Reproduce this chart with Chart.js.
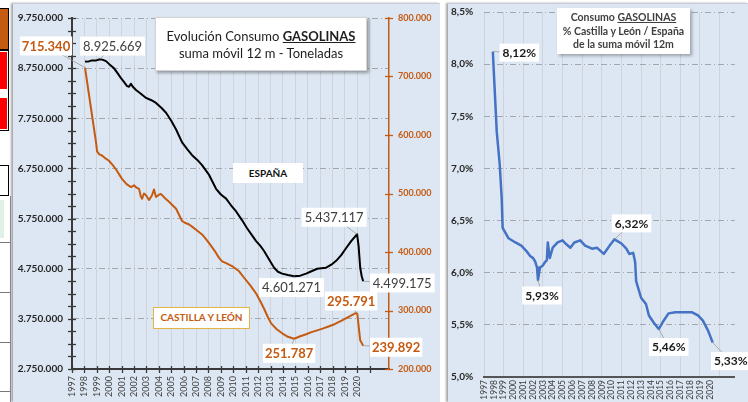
<!DOCTYPE html>
<html><head><meta charset="utf-8">
<script src="https://cdn.jsdelivr.net/npm/chart.js@4.4.1/dist/chart.umd.min.js"></script>
<style>
html,body{margin:0;padding:0;background:#fff;width:748px;height:402px;overflow:hidden;font-family:Lato,'Open Sans',sans-serif;}
.abs{position:absolute;box-sizing:border-box}
canvas{position:absolute}
</style></head><body>
<!-- fragments of the neighbouring graphic on the far left -->
<div class="abs" style="left:0;top:8px;width:9px;height:42px;background:#c55a11;border:1px solid #000;border-left:none"></div>
<div class="abs" style="left:0;top:50px;width:9px;height:81px;background:#fff;border:1px solid #000;border-left:none"></div>
<div class="abs" style="left:0;top:52px;width:7px;height:37px;background:#ff0000"></div>
<div class="abs" style="left:0;top:98px;width:7px;height:31px;background:#ff0000"></div>
<div class="abs" style="left:0;top:165px;width:9px;height:31px;background:#fff;border:1px solid #000;border-left:none"></div>
<div class="abs" style="left:0;top:200px;width:4px;height:38px;background:#dff0e4"></div>
<div class="abs" style="left:0;top:242px;width:10px;height:1px;background:#777"></div>
<div class="abs" style="left:0;top:292px;width:10px;height:1px;background:#777"></div>
<div class="abs" style="left:0;top:342px;width:10px;height:1px;background:#777"></div>
<div class="abs" style="left:0;top:391px;width:10px;height:1px;background:#777"></div>
<div class="abs" style="left:10px;top:196px;width:1px;height:206px;background:#999"></div>

<!-- panels -->
<div class="abs" style="left:13px;top:3px;width:427px;height:399px;background:#dde7f3;border-top:1px solid #c9ced6;box-shadow:-2px 0 2px rgba(0,0,0,0.35)"></div>
<div class="abs" style="left:448px;top:3px;width:300px;height:399px;background:#dde7f3;border-top:1px solid #c9ced6;box-shadow:-2px 0 2px rgba(0,0,0,0.35)"></div>

<canvas id="cl" width="427" height="399" style="left:13px;top:3px;width:427px;height:399px"></canvas>
<canvas id="cr" width="300" height="399" style="left:448px;top:3px;width:300px;height:399px"></canvas>

<div class="abs" style="left:155px;top:17px;width:212px;height:54px;background:#fff;border:1px solid #d4d4d4;box-shadow:2px 2px 3px rgba(0,0,0,0.35);font-size:13px;line-height:17px;text-align:center;color:#1e1e1e;padding-top:10px">Evolución Consumo <b><u>GASOLINAS</u></b><br>suma móvil 12 m - Toneladas</div>
<div class="abs" style="left:233px;top:163px;width:70px;height:20px;background:#fff;font-size:10px;font-weight:bold;line-height:20px;text-align:center;color:#111">ESPAÑA</div>
<div class="abs" style="left:153px;top:307px;width:97px;height:22px;background:#fff;border:1.5px solid #e2b447;font-size:10px;font-weight:bold;line-height:19px;text-align:center;color:#c55a11">CASTILLA Y LEÓN</div>
<div class="abs" style="left:557px;top:8px;width:133px;height:46px;background:#fff;box-shadow:2px 2px 3px rgba(0,0,0,0.3);font-size:10.5px;font-weight:bold;line-height:13.5px;text-align:center;color:#404040;padding-top:3px;white-space:nowrap">Consumo <u>GASOLINAS</u><br>% Castilla y León / España<br>de la suma móvil 12m</div>

<script>
// ---------- DATA ----------
const espYears = [1998.05,1998.3,1998.6,1998.9,1999.26,1999.5,1999.74,2000.0,2000.39,2000.7,2000.95,2001.2,2001.44,2001.6,2001.75,2001.9,2002.16,2002.5,2002.97,2003.4,2003.77,2004.2,2004.58,2005.0,2005.39,2005.87,2006.3,2006.68,2007.1,2007.48,2008.05,2008.61,2009.0,2009.42,2009.8,2010.23,2010.7,2011.11,2011.5,2011.84,2012.2,2012.48,2012.9,2013.29,2013.6,2013.94,2014.4,2014.9,2015.4,2015.87,2016.3,2016.76,2017.1,2017.48,2017.9,2018.29,2018.7,2019.1,2019.5,2019.98,2020.1,2020.23,2020.35,2020.47];
const espTonnes = [8884000,8880000,8904000,8900000,8925669,8915000,8890000,8830000,8746000,8640000,8549000,8470000,8392000,8380000,8440000,8380000,8313000,8250000,8156000,8110000,8057000,7960000,7860000,7700000,7526000,7270000,7130000,7014000,6920000,6817000,6620000,6344000,6230000,6148000,6020000,5892000,5720000,5557000,5420000,5301000,5200000,5104000,4930000,4770000,4690000,4652000,4625000,4601271,4612000,4652000,4700000,4750000,4760000,4770000,4830000,4907000,5020000,5163000,5300000,5437117,5200000,4770000,4600000,4499175];

const cylYears = [1998.05,1998.5,1998.94,1999.02,1999.2,1999.42,1999.7,1999.98,2000.3,2000.55,2001.03,2001.4,2001.76,2002.0,2002.2,2002.4,2002.55,2002.65,2002.8,2002.97,2003.21,2003.45,2003.61,2003.77,2004.0,2004.18,2004.5,2004.82,2005.1,2005.39,2005.87,2006.1,2006.44,2006.7,2007.0,2007.48,2007.8,2008.05,2008.5,2008.85,2009.1,2009.42,2009.9,2010.47,2010.87,2011.4,2011.84,2012.2,2012.48,2012.8,2013.05,2013.5,2013.94,2014.4,2014.9,2015.4,2015.87,2016.3,2016.76,2017.2,2017.73,2018.2,2018.77,2019.3,2019.9,2020.0,2020.12,2020.23,2020.47];
const cylTonnes = [715340,650000,587000,572000,567000,565000,560000,556000,548000,541000,525000,516000,511000,514000,510000,508000,495000,491000,500000,497000,489000,497000,507000,494000,498000,499000,492000,486000,480000,474000,453000,450000,447000,443000,438000,430000,422000,415000,402000,390000,384000,381000,376000,367000,356000,342000,329000,315000,303000,288000,278000,268000,261000,255000,251787,256000,259500,263000,266000,269000,273000,277000,283000,289000,295791,294000,270000,249000,239892];

const pctYears = [1997.9,1998.3,1998.6,1998.8,1998.9,1999.2,1999.5,2000.2,2000.8,2001.3,2001.7,2002.0,2002.2,2002.4,2002.5,2002.7,2003.0,2003.2,2003.4,2003.5,2003.7,2004.0,2004.5,2005.0,2005.3,2005.8,2006.2,2006.8,2007.3,2008.0,2008.5,2009.2,2009.8,2010.3,2011.0,2011.5,2011.8,2012.2,2012.4,2012.5,2013.0,2013.5,2013.8,2014.3,2014.8,2015.3,2015.8,2016.5,2017.3,2018.2,2018.8,2019.3,2019.8,2020.3];
const pctValues = [8.12,7.35,7.04,6.72,6.43,6.38,6.33,6.29,6.26,6.21,6.16,6.14,6.11,6.05,5.93,6.05,6.07,6.10,6.12,6.29,6.14,6.24,6.29,6.31,6.28,6.24,6.29,6.31,6.26,6.23,6.24,6.18,6.26,6.32,6.28,6.23,6.18,6.19,6.10,5.92,5.76,5.70,5.59,5.52,5.46,5.54,5.61,5.62,5.62,5.62,5.59,5.54,5.45,5.33];

const firstYear = 1997;
const lastLabelYear = 2020;
const axisEnd = 2022.55;
const espRange = [2750000, 9750000, 250000];
const cylRange = [200000, 800000, 100000];
const pctRange = [5.0, 8.5, 0.5];

// ---------- helpers ----------
const FONT = 'Lato';
function thousands(v){ return String(Math.round(v)).replace(/\B(?=(\d{3})+(?!\d))/g,'.'); }
function pctText(v){ return v.toFixed(2).replace('.',',') + '%'; }
function pts(xs, ys){ return xs.map((x,i)=>({x:x, y:ys[i]})); }
function yearLabel(v){ return (Number.isInteger(v) && v <= lastLabelYear) ? String(v) : ''; }

function makeAxisMarks(items){
  return { id:'axisMarks', afterDraw(chart){
    const c = chart.ctx; c.save();
    items.forEach(it => {
      const s = chart.scales[it.scale];
      c.strokeStyle = it.color; c.lineWidth = it.width;
      s.ticks.forEach(t => {
        if (it.intOnly && !Number.isInteger(t.value)) return;
        const p = Math.round(s.getPixelForValue(t.value)) + 0.5;
        c.beginPath();
        if (s.isHorizontal()) { c.moveTo(p, s.top - it.inner); c.lineTo(p, s.top + it.outer); }
        else if (s.position === 'left') { c.moveTo(s.right - it.outer, p); c.lineTo(s.right + it.inner, p); }
        else { c.moveTo(s.left - it.inner, p); c.lineTo(s.left + it.outer, p); }
        c.stroke();
      });
    });
    c.restore();
  }};
}

function makeLabels(specs){
  return { id:'dataLabels', afterDraw(chart){
    const c = chart.ctx; c.save();
    specs.forEach(s => {
      const ds = chart.data.datasets[s.ds];
      const idx = ds.data.findIndex(p => p.x === s.year);
      if (idx < 0) return;
      const el = chart.getDatasetMeta(s.ds).data[idx];
      const x = el.x, y = el.y;
      c.font = (s.bold ? 'bold ' : '') + s.size + 'px ' + FONT;
      const text = s.fmt(ds.data[idx].y);
      const w = c.measureText(text).width + 2 * s.padX, h = s.size + 6;
      const cx = x + s.dx, cy = y + s.dy;
      c.strokeStyle = '#9a9a9a'; c.lineWidth = 0.8;
      c.beginPath(); c.moveTo(x, y); c.lineTo(cx, cy); c.stroke();
      c.fillStyle = '#fff'; c.fillRect(cx - w/2, cy - h/2, w, h);
      c.fillStyle = s.color; c.textAlign = 'center'; c.textBaseline = 'middle';
      c.fillText(text, cx, cy + 0.5);
    });
    c.restore();
  }};
}

Chart.defaults.font.family = FONT;
Chart.defaults.devicePixelRatio = 1;

// ---------- LEFT CHART ----------
const ORANGE = '#c55a11';
const leftLabels = [
  {ds:0, year:1999.26, fmt:thousands, dx:12.5, dy:-13.3, size:13, bold:false, color:'#404040', padX:3},
  {ds:1, year:1998.05, fmt:thousands, dx:-39, dy:-21.6, size:13, bold:true, color:ORANGE, padX:2},
  {ds:0, year:2019.98, fmt:thousands, dx:-23, dy:-17, size:13, bold:false, color:'#404040', padX:3},
  {ds:0, year:2014.9, fmt:thousands, dx:-2.6, dy:11.4, size:13, bold:false, color:'#404040', padX:3},
  {ds:0, year:2020.47, fmt:thousands, dx:39, dy:1.7, size:13, bold:false, color:'#404040', padX:3},
  {ds:1, year:2019.9, fmt:thousands, dx:-5, dy:-12, size:13, bold:true, color:ORANGE, padX:2},
  {ds:1, year:2014.9, fmt:thousands, dx:-5, dy:14.6, size:13, bold:true, color:ORANGE, padX:2},
  {ds:1, year:2020.47, fmt:thousands, dx:33, dy:1.6, size:13, bold:true, color:ORANGE, padX:2}
];

new Chart(document.getElementById('cl'), {
  type:'line',
  data:{ datasets:[
    {label:'ESPAÑA', data:pts(espYears, espTonnes), yAxisID:'y', borderColor:'#000', borderWidth:2, pointRadius:0, tension:0, borderJoinStyle:'round'},
    {label:'CASTILLA Y LEÓN', data:pts(cylYears, cylTonnes), yAxisID:'y1', borderColor:ORANGE, borderWidth:2, pointRadius:0, tension:0, borderJoinStyle:'round'}
  ]},
  options:{
    responsive:false, animation:false, devicePixelRatio:1,
    layout:{padding:{top:11, left:0, right:0, bottom:0}},
    plugins:{legend:{display:false}, tooltip:{enabled:false}, title:{display:false}},
    scales:{
      x:{type:'linear', min:firstYear, max:axisEnd,
        ticks:{stepSize:1, autoSkip:false, minRotation:90, maxRotation:90, padding:7, color:'#404040', font:{size:9}, callback:yearLabel},
        grid:{drawTicks:false, lineWidth:1, color:ctx => (ctx.tick && Number.isInteger(ctx.tick.value) && ctx.tick.value > firstYear) ? '#cfd4db' : 'rgba(0,0,0,0)'},
        border:{color:'#3a3a3a', width:2},
        afterFit:s => { s.height = 33; }
      },
      y:{position:'left', min:espRange[0], max:espRange[1],
        ticks:{stepSize:espRange[2], autoSkip:false, padding:9, color:'#262626', font:{size:10, weight:'bold'},
          callback:v => ((v - espRange[0]) % 1000000 === 0) ? thousands(v) : ''},
        grid:{drawTicks:false, lineWidth:1, color:ctx => (ctx.tick && (ctx.tick.value - espRange[0]) % 1000000 === 0 && ctx.tick.value > espRange[0]) ? '#a3a7ad' : 'rgba(0,0,0,0)'},
        border:{color:'#3a3a3a', width:2, dash:[6,3,1,3]},
        afterFit:s => { s.width = 59; }
      },
      y1:{position:'right', min:cylRange[0], max:cylRange[1],
        ticks:{stepSize:cylRange[2], autoSkip:false, padding:9, color:ORANGE, font:{size:9, weight:'bold'}, callback:v => thousands(v)},
        grid:{drawTicks:false, drawOnChartArea:false},
        border:{color:ORANGE, width:1.5},
        afterFit:s => { s.width = 51; }
      }
    }
  },
  plugins:[
    makeAxisMarks([
      {scale:'y', color:'#3a3a3a', width:1.3, inner:4, outer:4},
      {scale:'y1', color:ORANGE, width:1.3, inner:4, outer:4},
      {scale:'x', color:'#3a3a3a', width:1.3, inner:3, outer:4, intOnly:true}
    ]),
    makeLabels(leftLabels)
  ]
});

// ---------- RIGHT CHART ----------
const rightLabels = [
  {ds:0, year:1997.9, fmt:pctText, dx:26.5, dy:1, size:12, bold:true, color:'#1a1a1a', padX:3},
  {ds:0, year:2010.3, fmt:pctText, dx:17, dy:-16, size:12, bold:true, color:'#1a1a1a', padX:3},
  {ds:0, year:2002.5, fmt:pctText, dx:4, dy:15.5, size:12, bold:true, color:'#1a1a1a', padX:3},
  {ds:0, year:2014.8, fmt:pctText, dx:10, dy:18, size:12, bold:true, color:'#1a1a1a', padX:3},
  {ds:0, year:2020.3, fmt:pctText, dx:18, dy:18.5, size:12, bold:true, color:'#1a1a1a', padX:3}
];

new Chart(document.getElementById('cr'), {
  type:'line',
  data:{ datasets:[
    {label:'% Castilla y León / España', data:pts(pctYears, pctValues), borderColor:'#4472c4', borderWidth:2.5, pointRadius:0, tension:0, borderJoinStyle:'round'}
  ]},
  options:{
    responsive:false, animation:false, devicePixelRatio:1,
    layout:{padding:{top:7, left:3, right:8, bottom:0}},
    plugins:{legend:{display:false}, tooltip:{enabled:false}},
    scales:{
      x:{type:'linear', min:firstYear, max:axisEnd,
        ticks:{stepSize:1, autoSkip:false, minRotation:90, maxRotation:90, padding:3, color:'#404040', font:{size:8.5}, callback:yearLabel},
        grid:{drawTicks:false, lineWidth:1, color:ctx => (ctx.tick && Number.isInteger(ctx.tick.value) && (ctx.tick.value - firstYear) % 2 === 0) ? '#cfd4db' : 'rgba(0,0,0,0)'},
        border:{color:'#555', width:2},
        afterFit:s => { s.height = 25; }
      },
      y:{position:'left', min:pctRange[0], max:pctRange[1],
        ticks:{stepSize:pctRange[2], autoSkip:false, crossAlign:'far', color:'#262626', font:{size:10, weight:'bold'},
          callback:v => v.toFixed(1).replace('.', ',') + '%'},
        grid:{drawTicks:false, lineWidth:1, color:ctx => (ctx.tick && ctx.tick.value > pctRange[0]) ? '#a3a7ad' : 'rgba(0,0,0,0)'},
        border:{display:false, dash:[6,3,1,3]},
        afterFit:s => { s.width = 33; }
      }
    }
  },
  plugins:[makeLabels(rightLabels)]
});
</script>
</body></html>
